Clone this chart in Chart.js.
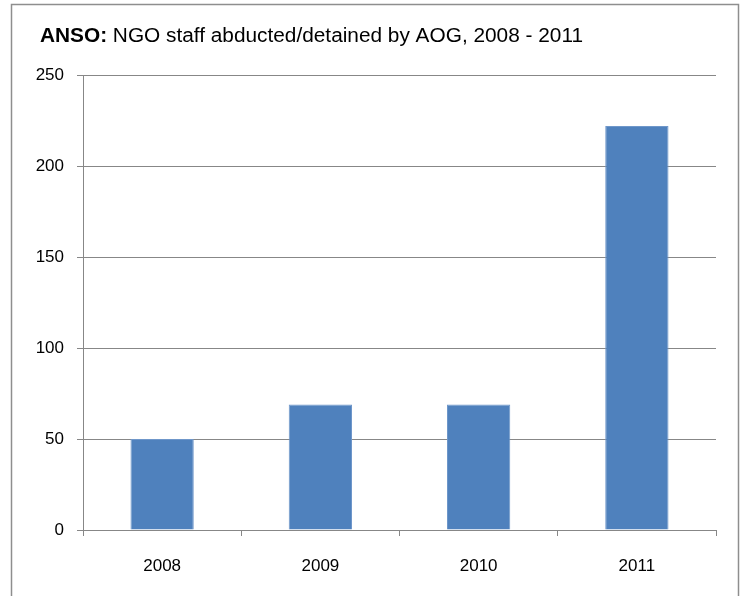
<!DOCTYPE html>
<html>
<head>
<meta charset="utf-8">
<script src="https://cdn.jsdelivr.net/npm/chart.js@4/dist/chart.umd.min.js"></script>
<style>
  html, body { margin: 0; padding: 0; background: #fff; }
  canvas { display: block; }
</style>
</head>
<body>
<canvas id="c" width="744" height="596"></canvas>
<script>
// Staff abducted/detained per year
const years = ['2008', '2009', '2010', '2011'];
const abducted = [50, 69, 69, 222];

// Value axis
const yMin = 0;
const yMax = 250;
const yStep = 50;

// Heading pieces
const titleBold = 'ANSO:';
const titleRest = ' NGO staff abducted/detained by AOG, 2008 - 2011';

const FONT = "'Liberation Sans', Arial, sans-serif";
const LINE = '#878787';

// White background plus the grey frame around the whole chart
const framePlugin = {
  id: 'frame',
  beforeDraw(chart) {
    const ctx = chart.ctx;
    ctx.save();
    ctx.fillStyle = '#fff';
    ctx.fillRect(0, 0, chart.width, chart.height);
    ctx.strokeStyle = '#8e8e8e';
    ctx.lineWidth = 1.5;
    ctx.strokeRect(11.5, 4.5, 727, 640);
    ctx.restore();
  }
};

// Heading with a bold lead-in
const headingPlugin = {
  id: 'heading',
  afterDraw(chart) {
    const ctx = chart.ctx;
    ctx.save();
    ctx.fillStyle = '#000';
    ctx.textBaseline = 'alphabetic';
    const bold = 'bold 20px ' + FONT;
    const norm = '20px ' + FONT;
    ctx.font = bold;
    const wb = ctx.measureText(titleBold).width;
    ctx.font = norm;
    const wr = ctx.measureText(titleRest).width;
    const sx = 543 / (wb + wr);
    ctx.translate(40, 42);
    ctx.scale(sx, 1);
    ctx.font = bold;
    ctx.fillText(titleBold, 0, 0);
    ctx.font = norm;
    ctx.fillText(titleRest, wb, 0);
    ctx.restore();
  }
};

new Chart(document.getElementById('c'), {
  type: 'bar',
  data: {
    labels: years,
    datasets: [{
      data: abducted,
      backgroundColor: '#4F81BD',
      borderColor: '#6F97CA',
      borderWidth: 1,
      categoryPercentage: 1.0,
      barPercentage: 0.4
    }]
  },
  options: {
    responsive: false,
    animation: false,
    layout: { padding: { top: 75, right: 28, left: 0, bottom: 0 } },
    plugins: {
      legend: { display: false },
      title: { display: false },
      tooltip: { enabled: false }
    },
    scales: {
      x: {
        grid: { display: true, drawOnChartArea: false, drawTicks: true, tickLength: 6, color: LINE, offset: true },
        border: { display: true, color: LINE },
        ticks: { color: '#000', font: { family: FONT, size: 17 }, padding: 20, maxRotation: 0 },
        afterFit(scale) { scale.height = 66; }
      },
      y: {
        min: yMin,
        max: yMax,
        ticks: { stepSize: yStep, color: '#000', font: { family: FONT, size: 17 }, padding: 13 },
        grid: { color: LINE, tickLength: 6, drawTicks: true },
        border: { display: true, color: LINE },
        afterFit(scale) { scale.width = 83; }
      }
    }
  },
  plugins: [framePlugin, headingPlugin]
});
</script>
</body>
</html>
